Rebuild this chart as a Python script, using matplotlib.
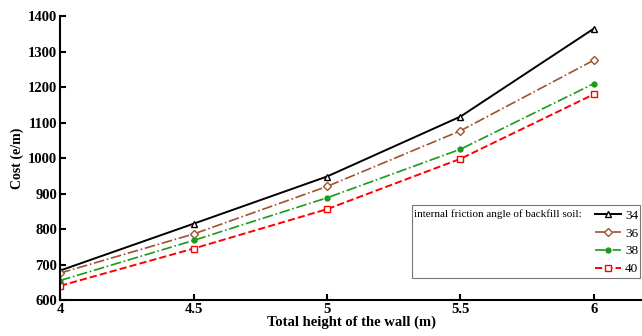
import matplotlib.pyplot as plt
from matplotlib.patches import Rectangle

# wall height (m)
heights = [4, 4.5, 5, 5.5, 6]

# cost per friction angle
cost_34 = [683, 815, 948, 1117, 1365]
cost_36 = [676, 786, 920, 1077, 1276]
cost_38 = [655, 768, 888, 1025, 1210]
cost_40 = [640, 745, 856, 998, 1180]

angle_labels = ['34', '36', '38', '40']

plt.rcParams['font.family'] = ['Liberation Serif', 'DejaVu Serif']
plt.rcParams['font.weight'] = 'bold'

fig = plt.figure(figsize=(6.42, 3.36), dpi=100)
ax = fig.add_axes([0.0935, 0.107, 0.9065, 0.845])

l1, = ax.plot(heights, cost_34, color='black', lw=1.4, marker='^', ms=5,
              mfc='white', mec='black', label=angle_labels[0])
l2, = ax.plot(heights, cost_36, color='#a0522d', lw=1.2, ls='-.', marker='D', ms=4.5,
              mfc='white', mec='#a0522d', label=angle_labels[1])
l3, = ax.plot(heights, cost_38, color='#1a9a1a', lw=1.2, ls='-.', marker='o', ms=3.5,
              mfc='#1a9a1a', mec='#1a9a1a', label=angle_labels[2])
l4, = ax.plot(heights, cost_40, color='red', lw=1.4, ls='--', marker='s', ms=5,
              mfc='white', mec='red', label=angle_labels[3])

ax.set_xlim(4, 6.18)
ax.set_ylim(600, 1400)
ax.set_xticks(heights)
ax.set_xticklabels(['4', '4.5', '5', '5.5', '6'])
ax.set_yticks(range(600, 1401, 100))
ax.tick_params(direction='in', length=4, width=1.5, labelsize=10.5, pad=2)
for lab in ax.get_xticklabels() + ax.get_yticklabels():
    lab.set_fontweight('bold')

ax.spines['top'].set_visible(False)
ax.spines['right'].set_visible(False)
ax.spines['left'].set_linewidth(1.5)
ax.spines['bottom'].set_linewidth(1.5)

ax.set_xlabel('Total height of the wall (m)', fontsize=10.5, fontweight='bold', labelpad=0)
ax.set_ylabel('Cost (e/m)', fontsize=10, fontweight='bold', labelpad=3)

# legend box with its caption on the first row
fig.patches.append(Rectangle((412 / 642, 1 - 278 / 336), 228 / 642, 73 / 336,
                             transform=fig.transFigure, fill=True, facecolor='white',
                             edgecolor='#777777', lw=0.8, zorder=5))
fig.text(414 / 642, 1 - 214 / 336, 'internal friction angle of backfill soil:',
         fontsize=8, fontweight='normal', va='center', ha='left', zorder=6)
leg = fig.legend(handles=[l1, l2, l3, l4], loc='upper right',
                 bbox_to_anchor=(641 / 642, 1 - 207 / 336), frameon=False,
                 fontsize=9.5, handlelength=2.0, handletextpad=0.3,
                 labelspacing=0.42, borderaxespad=0, borderpad=0.2)
leg.set_zorder(7)
for t in leg.get_texts():
    t.set_fontweight('normal')

fig.savefig('out.png', dpi=100)
